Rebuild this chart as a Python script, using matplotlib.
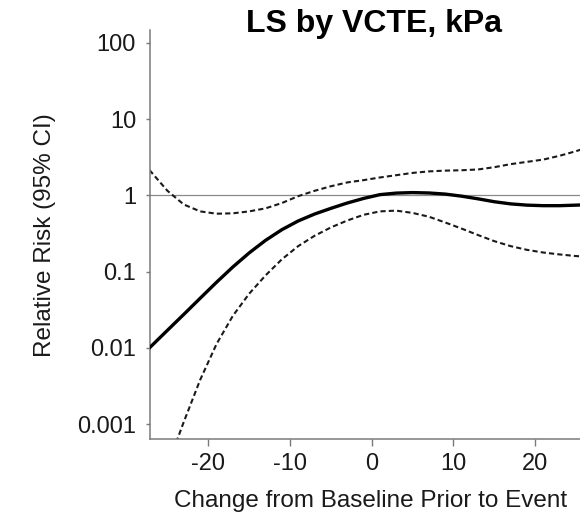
import numpy as np
import matplotlib
matplotlib.use('Agg')
import matplotlib.pyplot as plt
from matplotlib.ticker import FixedLocator, NullLocator

plt.rcParams['font.family'] = ['Liberation Sans', 'DejaVu Sans']

# change from baseline (kPa) and relative risk with 95% CI bounds
change = [-27.2, -25, -23, -21, -19, -17, -15, -13, -11, -9, -7, -5, -3, -1,
          1, 3, 5, 7, 9, 11, 13, 15, 17, 19, 21, 23, 25, 27]
rr = [0.0100, 0.0170, 0.0275, 0.0447, 0.0724, 0.115, 0.176, 0.257, 0.355,
      0.462, 0.569, 0.676, 0.794, 0.912, 1.023, 1.072, 1.089, 1.076, 1.040,
      0.977, 0.902, 0.826, 0.774, 0.745, 0.733, 0.733, 0.745, 0.759]
ci_upper = [2.15, 1.148, 0.759, 0.617, 0.575, 0.582, 0.617, 0.676, 0.794,
            0.977, 1.148, 1.318, 1.479, 1.585, 1.718, 1.841, 1.972, 2.065,
            2.113, 2.138, 2.188, 2.344, 2.570, 2.754, 2.951, 3.311, 3.802, 4.467]
ci_lower = [None, 0.000282, 0.00107, 0.00380, 0.0112, 0.0263, 0.0513, 0.0891,
            0.145, 0.216, 0.295, 0.380, 0.468, 0.556, 0.617, 0.631, 0.589,
            0.525, 0.441, 0.367, 0.302, 0.251, 0.216, 0.193, 0.178, 0.168,
            0.160, 0.155]

xticks = [-20, -10, 0, 10, 20]
yticks = [100, 10, 1, 0.1, 0.01, 0.001]
ytick_labels = ['100', '10', '1', '0.1', '0.01', '0.001']

fig = plt.figure(figsize=(5.8, 5.15), dpi=100)
# axes runs a little past the right edge of the figure
ax = fig.add_axes([149.5 / 580, 75.7 / 515, 442 / 580, 409.3 / 515])

ax.axhline(1, color='#8a8a8a', lw=0.9, zorder=1)

lo_x = [x for x, v in zip(change, ci_lower) if v is not None]
lo_y = [v for v in ci_lower if v is not None]
ax.plot(change, ci_upper, color='#1a1a1a', lw=1.5, ls=(0, (2.5, 1.5)), zorder=2)
ax.plot(lo_x, lo_y, color='#1a1a1a', lw=1.5, ls=(0, (2.5, 1.5)), zorder=2)
ax.plot(change, rr, color='black', lw=2.4, solid_joinstyle='round', zorder=3)

ax.set_yscale('log')
ax.set_xlim(-27.2, 26.9)
ax.set_ylim(10 ** -3.20, 10 ** 2.17)

ax.xaxis.set_major_locator(FixedLocator(xticks))
ax.set_xticklabels([str(t) for t in xticks])
ax.yaxis.set_major_locator(FixedLocator(yticks))
ax.yaxis.set_minor_locator(NullLocator())
ax.set_yticklabels(ytick_labels)

for side in ['top', 'right']:
    ax.spines[side].set_visible(False)
for side in ['left', 'bottom']:
    ax.spines[side].set_color('#7a7a7a')
    ax.spines[side].set_linewidth(1.1)

ax.tick_params(axis='x', length=4.8, width=1.0, color='#7a7a7a', pad=5,
               labelsize=17, labelcolor='#1a1a1a')
ax.tick_params(axis='y', length=3.2, width=1.0, color='#7a7a7a', pad=6.5,
               labelsize=17, labelcolor='#1a1a1a')

ax.set_xlabel('Change from Baseline Prior to Event', fontsize=17.5, color='#1a1a1a')
ax.set_ylabel('Relative Risk (95% CI)', fontsize=17.5, color='#1a1a1a')
ax.xaxis.set_label_coords(0.5, -0.125)
ax.yaxis.set_label_coords(-0.212, 0.5)

fig.text(374 / 580, 1 - 32 / 515, 'LS by VCTE, kPa', ha='center', va='baseline',
         fontsize=23, fontweight='bold', color='black')

fig.savefig('out.png', dpi=100)
